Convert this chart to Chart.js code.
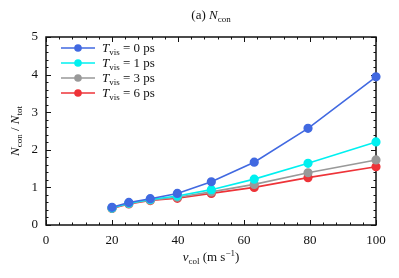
<!DOCTYPE html>
<html>
<head>
<meta charset="utf-8">
<script src="https://cdn.jsdelivr.net/npm/chart.js@4"></script>
<style>
  body { margin: 0; background: #fff; }
  #wrap { width: 399px; height: 278px; position: relative; }
</style>
</head>
<body>
<div id="wrap"><canvas id="chart"></canvas></div>
<script>
// collision speed (m s^-1)
const speeds = [20, 25.1, 31.6, 39.8, 50.1, 63.1, 79.4, 100];
// N_con / N_tot for each visibility time
const nconT0 = [0.47, 0.60, 0.70, 0.84, 1.15, 1.67, 2.57, 3.94];
const nconT1 = [0.45, 0.58, 0.68, 0.77, 0.94, 1.22, 1.64, 2.21];
const nconT3 = [0.45, 0.57, 0.66, 0.74, 0.88, 1.08, 1.39, 1.73];
const nconT6 = [0.44, 0.56, 0.65, 0.71, 0.84, 1.00, 1.26, 1.55];
const visTimes = ['0', '1', '3', '6'];
const colors = ['#4169e1', '#00f0f0', '#999999', '#ee3338'];
const xTicks = [0, 20, 40, 60, 80, 100];
const yTicks = [0, 1, 2, 3, 4, 5];

var FONT = '"Liberation Serif", "DejaVu Serif", serif';

function mkSet(vals, i) {
    return {
        label: 'T_vis = ' + visTimes[i] + ' ps',
        data: speeds.map((s, k) => ({ x: s, y: vals[k] })),
        borderColor: colors[i],
        backgroundColor: colors[i],
        borderWidth: 1.6,
        pointRadius: 3.8,
        pointHoverRadius: 3.8,
        showLine: true,
        clip: false
    };
}

// draw text pieces: {t, it, sub, sup}
function rich(ctx, parts, x, y, align) {
    var size = 13, small = 9;
    var w = 0;
    parts.forEach(p => {
        ctx.font = (p.it ? 'italic ' : '') + ((p.sub || p.sup) ? small : size) + 'px ' + FONT;
        p.w = ctx.measureText(p.t).width;
        w += p.w;
    });
    var cx = align === 'center' ? x - w / 2 : x;
    ctx.textAlign = 'left';
    ctx.textBaseline = 'alphabetic';
    parts.forEach(p => {
        ctx.font = (p.it ? 'italic ' : '') + ((p.sub || p.sup) ? small : size) + 'px ' + FONT;
        var dy = p.sub ? 3 : (p.sup ? -5 : 0);
        ctx.fillText(p.t, cx, y + dy);
        cx += p.w;
    });
}

const framePlugin = {
    id: 'frame',
    beforeDatasetsDraw(chart) {
        var ctx = chart.ctx, a = chart.chartArea;
        var xs = chart.scales.x, ys = chart.scales.y;
        ctx.save();
        ctx.strokeStyle = '#111';
        ctx.lineWidth = 1.5;
        ctx.strokeRect(a.left, a.top, a.right - a.left, a.bottom - a.top);
        ctx.lineWidth = 1;
        ctx.beginPath();
        for (var v = 0; v <= 5.001; v += 0.2) {
            var py = Math.round(ys.getPixelForValue(v)) + 0.5;
            var len = Math.abs(v - Math.round(v)) < 0.01 ? 5 : 2.5;
            ctx.moveTo(a.left, py); ctx.lineTo(a.left + len, py);
            ctx.moveTo(a.right, py); ctx.lineTo(a.right - len, py);
        }
        for (var u = 0; u <= 100.01; u += 4) {
            var px = Math.round(xs.getPixelForValue(u)) + 0.5;
            var l2 = u % 20 === 0 ? 5 : 2.5;
            ctx.moveTo(px, a.bottom); ctx.lineTo(px, a.bottom - l2);
            ctx.moveTo(px, a.top); ctx.lineTo(px, a.top + l2);
        }
        ctx.stroke();
        ctx.restore();
    },
    afterDraw(chart) {
        var ctx = chart.ctx, a = chart.chartArea;
        var xs = chart.scales.x, ys = chart.scales.y;
        ctx.save();
        ctx.fillStyle = '#111';
        ctx.font = '13px ' + FONT;
        ctx.textAlign = 'right';
        ctx.textBaseline = 'middle';
        yTicks.forEach(v => ctx.fillText(String(v), a.left - 8, ys.getPixelForValue(v)));
        ctx.textAlign = 'center';
        ctx.textBaseline = 'top';
        xTicks.forEach(v => ctx.fillText(String(v), xs.getPixelForValue(v), a.bottom + 9));

        var mid = (a.left + a.right) / 2;
        rich(ctx, [{ t: '(a) ' }, { t: 'N', it: true }, { t: 'con', sub: true }], mid, 19, 'center');
        rich(ctx, [{ t: 'v', it: true }, { t: 'col', sub: true }, { t: ' (m s' }, { t: '\u22121', sup: true }, { t: ')' }], mid, 261, 'center');

        ctx.save();
        ctx.translate(19, (a.top + a.bottom) / 2);
        ctx.rotate(-Math.PI / 2);
        rich(ctx, [{ t: 'N', it: true }, { t: 'con', sub: true }, { t: ' / ' }, { t: 'N', it: true }, { t: 'tot', sub: true }], 0, 0, 'center');
        ctx.restore();

        // legend
        chart.data.datasets.forEach((ds, i) => {
            var ly = a.top + 11 + i * 15;
            ctx.strokeStyle = ds.borderColor;
            ctx.lineWidth = 1.6;
            ctx.beginPath();
            ctx.moveTo(a.left + 15, ly); ctx.lineTo(a.left + 49, ly);
            ctx.stroke();
            ctx.fillStyle = ds.borderColor;
            ctx.beginPath();
            ctx.arc(a.left + 32, ly, 3.8, 0, Math.PI * 2);
            ctx.fill();
            ctx.fillStyle = '#111';
            rich(ctx, [{ t: 'T', it: true }, { t: 'vis', sub: true }, { t: ' = ' + visTimes[i] + ' ps' }], a.left + 56, ly + 4, 'left');
        });
        ctx.restore();
    }
};

new Chart(document.getElementById('chart'), {
    type: 'scatter',
    data: {
        datasets: [mkSet(nconT0, 0), mkSet(nconT1, 1), mkSet(nconT3, 2), mkSet(nconT6, 3)]
    },
    options: {
        responsive: true,
        maintainAspectRatio: false,
        animation: false,
        layout: { padding: { left: 46, right: 23, top: 37, bottom: 53 } },
        scales: {
            x: { type: 'linear', min: 0, max: 100, display: false },
            y: { type: 'linear', min: 0, max: 5, display: false }
        },
        plugins: {
            legend: { display: false },
            tooltip: { enabled: false }
        }
    },
    plugins: [framePlugin]
});
</script>
</body>
</html>
